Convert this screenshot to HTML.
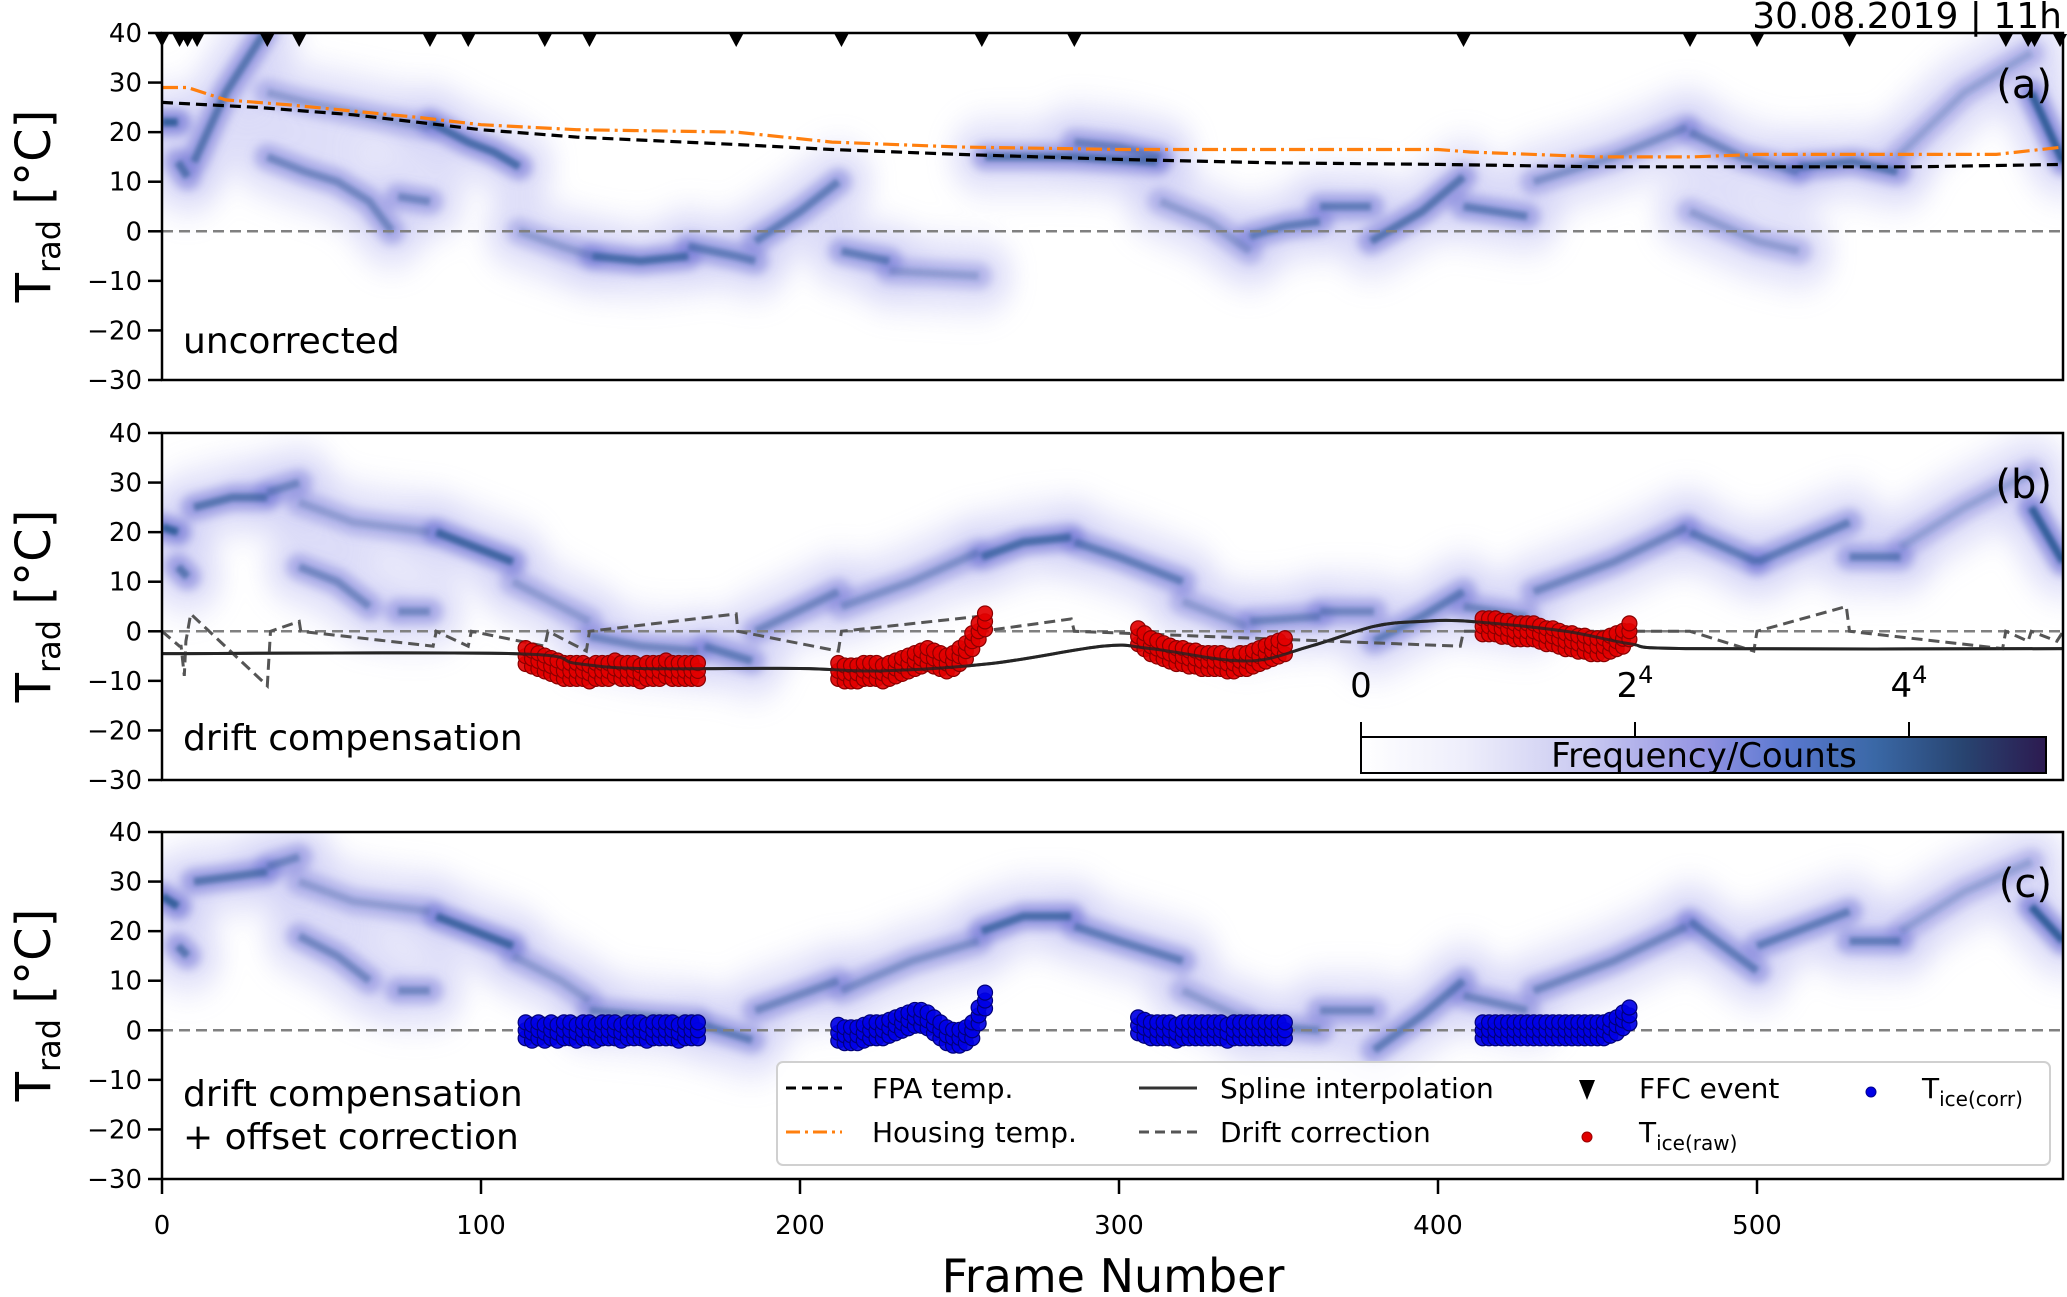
<!DOCTYPE html>
<html><head><meta charset="utf-8">
<style>
html,body{margin:0;padding:0;background:#fff;}
svg{display:block;font-family:"DejaVu Sans","Liberation Sans",sans-serif;}
</style></head>
<body>
<svg id="fig" width="2067" height="1297" viewBox="0 0 2067 1297" xmlns="http://www.w3.org/2000/svg">
<defs>
<filter id="blurH" filterUnits="userSpaceOnUse" x="0" y="0" width="2067" height="1297"><feGaussianBlur stdDeviation="12 16"/></filter>
<filter id="blurM" filterUnits="userSpaceOnUse" x="0" y="0" width="2067" height="1297"><feGaussianBlur stdDeviation="5"/></filter>
<filter id="blurC" filterUnits="userSpaceOnUse" x="0" y="0" width="2067" height="1297"><feGaussianBlur stdDeviation="2.2"/></filter>
<linearGradient id="cmap" x1="0" x2="1" y1="0" y2="0">
<stop offset="0" stop-color="#ffffff"/><stop offset="0.15" stop-color="#eeeefb"/>
<stop offset="0.33" stop-color="#c9c9f1"/><stop offset="0.5" stop-color="#9393e2"/>
<stop offset="0.62" stop-color="#5a78d0"/><stop offset="0.75" stop-color="#3a68a6"/>
<stop offset="0.88" stop-color="#284470"/><stop offset="1" stop-color="#2c1a50"/>
</linearGradient>
<clipPath id="clipA"><rect x="162" y="33" width="1901" height="347"/></clipPath>
<clipPath id="clipB"><rect x="162" y="433" width="1901" height="347"/></clipPath>
<clipPath id="clipC"><rect x="162" y="832" width="1901" height="347"/></clipPath>
</defs>
<g id="layers"></g>

<text x="2062" y="28" font-size="36" text-anchor="end">30.08.2019 | 11h</text>

<text x="2052" y="98" font-size="40" text-anchor="end">(a)</text>
<text x="2052" y="498" font-size="40" text-anchor="end">(b)</text>
<text x="2052" y="897" font-size="40" text-anchor="end">(c)</text>

<text x="183" y="353" font-size="36">uncorrected</text>
<text x="183" y="750" font-size="36">drift compensation</text>
<text x="183" y="1106" font-size="36">drift compensation</text>
<text x="183" y="1149" font-size="36">+ offset correction</text>

<g transform="translate(50,206) rotate(-90)"><text text-anchor="middle" font-size="48">T<tspan font-size="32" dy="10">rad</tspan><tspan dy="-10"> [°C]</tspan></text></g>
<g transform="translate(50,606) rotate(-90)"><text text-anchor="middle" font-size="48">T<tspan font-size="32" dy="10">rad</tspan><tspan dy="-10"> [°C]</tspan></text></g>
<g transform="translate(50,1005) rotate(-90)"><text text-anchor="middle" font-size="48">T<tspan font-size="32" dy="10">rad</tspan><tspan dy="-10"> [°C]</tspan></text></g>

<text x="1113" y="1292" font-size="46" text-anchor="middle">Frame Number</text>

<g>
<rect x="1361" y="737" width="685" height="36" fill="url(#cmap)" stroke="#000" stroke-width="2"/>
<line x1="1361" y1="722" x2="1361" y2="737" stroke="#000" stroke-width="2"/>
<line x1="1635" y1="722" x2="1635" y2="737" stroke="#000" stroke-width="2"/>
<line x1="1909" y1="722" x2="1909" y2="737" stroke="#000" stroke-width="2"/>
<text x="1361" y="697" font-size="34" text-anchor="middle">0</text>
<text x="1635" y="697" font-size="34" text-anchor="middle">2<tspan font-size="24" dy="-14">4</tspan></text>
<text x="1909" y="697" font-size="34" text-anchor="middle">4<tspan font-size="24" dy="-14">4</tspan></text>
<text x="1704" y="767" font-size="34" text-anchor="middle">Frequency/Counts</text>
</g>

<g>
<rect x="777" y="1062" width="1273" height="103" rx="6" fill="#fff" fill-opacity="0.85" stroke="#d0d0d0" stroke-width="2"/>
<line x1="786" y1="1088" x2="842" y2="1088" stroke="#000" stroke-width="3" stroke-dasharray="10,6"/>
<text x="872" y="1098" font-size="28">FPA temp.</text>
<line x1="786" y1="1132" x2="842" y2="1132" stroke="#ff7f0e" stroke-width="3" stroke-dasharray="14,5,3,5"/>
<text x="872" y="1142" font-size="28">Housing temp.</text>
<line x1="1139" y1="1088" x2="1197" y2="1088" stroke="#333" stroke-width="3"/>
<text x="1220" y="1098" font-size="28">Spline interpolation</text>
<line x1="1139" y1="1132" x2="1197" y2="1132" stroke="#555" stroke-width="3" stroke-dasharray="10,6"/>
<text x="1220" y="1142" font-size="28">Drift correction</text>
<path d="M1579,1080 L1595,1080 L1587,1100 Z" fill="#000"/>
<text x="1639" y="1098" font-size="28">FFC event</text>
<circle cx="1587" cy="1137" r="5" fill="#e00000" stroke="#900" stroke-width="1"/>
<text x="1639" y="1142" font-size="28">T<tspan font-size="20" dy="8">ice(raw)</tspan></text>
<circle cx="1871" cy="1092" r="5" fill="#0000e6" stroke="#000090" stroke-width="1"/>
<text x="1922" y="1098" font-size="28">T<tspan font-size="20" dy="8">ice(corr)</tspan></text>
</g>

<script>
// ---------- data ----------
const yTicks = [40, 30, 20, 10, 0, -10, -20, -30];
const yTickLabels = ["40", "30", "20", "10", "0", "\u221210", "\u221220", "\u221230"];
const xTicks = [0, 100, 200, 300, 400, 500];
const xTickLabels = ["0", "100", "200", "300", "400", "500"];

const ffcFrames = [0, 5.5, 8, 11, 33, 43, 84, 96, 120, 134, 180, 213, 257, 286, 408, 479, 500, 529, 578, 585, 587, 595];

const fpaFrames = [0, 30, 60, 80, 100, 130, 180, 210, 250, 300, 350, 400, 450, 500, 550, 596];
const fpaTemps  = [26, 25, 23.5, 22, 20.5, 19, 17.5, 16.5, 15.5, 14.5, 13.8, 13.5, 13, 13, 13, 13.5];
const housingFrames = [0, 8, 20, 40, 80, 100, 130, 180, 210, 250, 300, 350, 400, 410, 450, 480, 500, 550, 575, 596];
const housingTemps  = [29, 29, 26.5, 25.5, 23, 21.5, 20.5, 20, 18, 17, 16.5, 16.5, 16.5, 16, 15, 15, 15.5, 15.5, 15.5, 17];

const driftFrames = [0, 5.5, 6, 7, 7.5, 9, 33, 34, 43, 43.5, 85, 86, 96, 97, 120, 121, 133, 134, 180, 180.5, 212, 213, 256, 257, 285, 286, 407, 408, 479, 499, 500, 528, 529, 577, 578, 585, 586, 594, 596];
const driftTemps  = [0, -3, -3, -9, -2, 3.5, -11, 0, 2, 0, -3, 0, -3, 0, -3, 0, -4, 0, 3.5, 0, -4, 0, 3, 0, 2.5, 0, -3, 0, 0, -4, 0, 5, 0, -3.5, 0, -2, 0, -2, 0];

const splineFrames = [0, 110, 130, 150, 200, 225, 260, 295, 310, 340, 360, 380, 395, 410, 440, 460, 480, 596];
const splineTemps  = [-4.5, -4.5, -6.5, -7.5, -7.5, -8, -6.5, -3, -3.5, -6, -3, 1, 2, 2, 0, -2.5, -3.5, -3.5];

const iceFrames1 = [114,116,118,120,122,124,126,128,130,132,134,136,138,140,142,144,146,148,150,152,154,156,158,160,162,164,166,168];
const iceFrames2 = [212,214,216,218,220,222,224,226,228,230,232,234,236,238,240,242,244,246,248,250,252,254,256,258];
const iceFrames3 = [306,308,310,312,314,316,318,320,322,324,326,328,330,332,334,336,338,340,342,344,346,348,350,352];
const iceFrames4 = [414,416,418,420,422,424,426,428,430,432,434,436,438,440,442,444,446,448,450,452,454,456,458,460];
const iceRaw1 = [-5,-5.5,-6,-6.5,-7,-7.5,-8,-8,-8,-8,-8.5,-8,-8,-8,-7.5,-8,-8,-8,-8.5,-8,-8,-8,-7.5,-8,-8,-8,-8,-8];
const iceRaw2 = [-8,-8.5,-8.5,-8.5,-8,-8,-8,-8.5,-8,-7.5,-7,-6.5,-6,-5.5,-5,-5.5,-6,-6.5,-6,-5,-4,-2,0,2];
const iceRaw3 = [-1,-2,-3,-3.5,-4,-4.5,-5,-5,-5.5,-5.5,-6,-6,-6,-6,-6.5,-6.5,-6,-6,-5.5,-5,-4.5,-4,-3.5,-3];
const iceRaw4 = [1,1,1,0.5,0.5,0,0,0,0,-0.5,-1,-1,-1.5,-2,-2,-2.5,-2.5,-3,-3,-3,-2.5,-2,-1.5,0];
const iceCorr1 = [0,-0.5,0,-0.5,0,-0.5,0,0,-0.5,0,0,-0.5,0,0,0,-0.5,0,0,0,-0.5,0,0,0,0,-0.5,0,0,0];
const iceCorr2 = [-0.5,-1,-1,-1,-0.5,0,0,0,0.5,1,1.5,2,2.5,2.5,2,1,0,-1,-1.5,-1.5,-1,0,3,6];
const iceCorr3 = [1,0.5,0,0,0,0,-0.5,0,0,0,0,0,0,0,-0.5,0,0,0,0,0,0,0,0,0];
const iceCorr4 = [0,0,0,0,0,0,0,0,0,0,0,0,0,0,0,0,0,0,0,0,0.5,1,2,3];

// density ridges: [frames, temps, intensity]
const ridgesA = [
 [[0,5],[22,22],1],[[5,8],[14,11],.7],[[10,20,32],[14,28,40],.7],[[33,45,60,75,84],[28,26,24,22,21],.3],
 [[33,45,55,65,72],[15,12,10,6,0],.5],[[74,84],[7,6],.5],[[84,96,104,112],[22,18,16,13],.8],[[112,125,135],[0,-3,-5],.3],
 [[135,150,165],[-5,-6,-5],.8],[[165,180,186],[-3,-5,-6],.6],[[186,200,212],[-2,4,10],.6],[[213,228],[-4,-6],.6],
 [[228,256],[-8,-9],.3],[[258,285,312],[15,15,14],.7],[[286,300,313],[18,17,15],.5],[[313,328,341],[6,2,-4],.3],
 [[341,352,363],[-1,1,2],.6],[[363,379],[5,5],.6],[[379,395,408],[-2,4,11],.7],[[408,428],[5,3],.6],
 [[430,455,478],[10,15,21],.4],[[479,495,513],[20,15,12],.5],[[479,500,513],[4,-2,-4],.3],[[513,530,544],[13,14,12],.7],
 [[544,565,586],[15,28,36],.25],[[586,596],[28,14],1]
];
const ridgesB = [
 [[0,5],[21,20],1],[[5,8],[13,11],.7],[[10,22,33],[25,27,27],.7],[[33,43],[28,30],.5],[[43,55,65],[13,10,5],.5],
 [[43,60,84],[26,22,20],.3],[[74,84],[4,4],.5],[[86,98,110],[20,17,14],.9],[[110,125,134],[10,5,2],.3],
 [[134,150,168],[-1,-3,-4],.5],[[170,185],[-3,-6],.6],[[186,212],[0,8],.5],[[213,235,256],[5,10,16],.4],
 [[257,270,285],[15,18,19],.8],[[286,300,320],[18,15,10],.6],[[320,340],[6,1],.3],[[341,363],[2,3],.5],
 [[363,380],[4,4],.5],[[380,395,408],[-2,3,8],.6],[[408,428],[5,3],.5],[[430,455,478],[8,14,21],.5],
 [[479,500],[20,14],.6],[[500,529],[14,22],.6],[[529,545],[15,15],.6],[[545,565,586],[17,25,32],.25],[[586,596],[25,14],1]
];
const ridgesC = [
 [[0,5],[27,25],1],[[5,8],[17,15],.7],[[10,22,33],[30,31,32],.7],[[33,43],[33,35],.5],[[43,55,65],[19,15,10],.5],
 [[43,60,84],[30,26,24],.3],[[74,84],[8,8],.5],[[86,98,110],[23,20,17],.9],[[110,125,134],[15,10,6],.3],
 [[134,150,168],[4,3,2],.5],[[170,185],[1,-2],.6],[[186,212],[4,10],.5],[[213,235,256],[8,14,18],.4],
 [[257,270,285],[20,23,23],.8],[[286,300,320],[21,18,14],.6],[[320,340],[8,2],.3],[[341,363],[1,0],.5],
 [[363,380],[4,4],.5],[[380,395,408],[-4,3,10],.6],[[408,428],[7,4],.5],[[430,455,478],[8,14,21],.5],
 [[479,500],[22,12],.6],[[500,529],[17,24],.6],[[529,545],[18,18],.6],[[545,565,586],[20,28,34],.25],[[586,596],[25,18],1]
];

// ---------- layout ----------
const NS = "http://www.w3.org/2000/svg";
const X0 = 162, XS = 3.19, PW = 1901, PH = 347;
const panelTops = [33, 433, 832];
function xs(f){ return X0 + f * XS; }
function ys(p, t){ return panelTops[p] + (40 - t) * PH / 70; }
const root = document.getElementById('layers');
function mk(tag, attrs, parent){
  const e = document.createElementNS(NS, tag);
  for (const k in attrs) e.setAttribute(k, attrs[k]);
  (parent || root).appendChild(e);
  return e;
}
function pathFrom(p, F, T){
  let d = "";
  for (let i = 0; i < F.length; i++) d += (i ? "L" : "M") + xs(F[i]).toFixed(1) + "," + ys(p, T[i]).toFixed(1);
  return d;
}
function smoothPath(p, F, T){
  const P = F.map((f, i) => [xs(f), ys(p, T[i])]);
  let d = "M" + P[0][0] + "," + P[0][1];
  for (let i = 0; i < P.length - 1; i++){
    const p0 = P[Math.max(0, i-1)], p1 = P[i], p2 = P[i+1], p3 = P[Math.min(P.length-1, i+2)];
    const c1 = [p1[0] + (p2[0]-p0[0])/6, p1[1] + (p2[1]-p0[1])/6];
    const c2 = [p2[0] - (p3[0]-p1[0])/6, p2[1] - (p3[1]-p1[1])/6];
    d += "C" + c1.join(",") + " " + c2.join(",") + " " + p2.join(",");
  }
  return d;
}

const clips = ["clipA", "clipB", "clipC"];
const ridgeSets = [ridgesA, ridgesB, ridgesC];
const panelNames = ["panel-a", "panel-b", "panel-c"];

for (let p = 0; p < 3; p++){
  const g = mk('g', {'clip-path': 'url(#' + clips[p] + ')'});
  
  
  const hm = mk('g', {}, g);
  
  
  const halo = mk('g', {filter: 'url(#blurH)', opacity: 0.55}, hm);
  
  
  const mid = mk('g', {filter: 'url(#blurM)'}, hm);
  
  
  const core = mk('g', {filter: 'url(#blurC)'}, hm);
  
  
  ridgeSets[p].forEach(r => {
    const d = pathFrom(p, r[0], r[1]);
    const h = mk('path', {d: d, fill: 'none', stroke: '#b0b0ef', 'stroke-width': 70, 'stroke-opacity': 0.75, 'stroke-linecap': 'round'}, halo);
    
    
    const m = mk('path', {d: d, fill: 'none', stroke: '#6f73d4', 'stroke-width': 26, 'stroke-linecap': 'round', 'stroke-opacity': (0.25 + 0.45*r[2]).toFixed(2)}, mid);
    
    
    const c = mk('path', {d: d, fill: 'none', stroke: '#2a5a94', 'stroke-width': 8, 'stroke-opacity': (r[2]*0.9).toFixed(2)}, core);
    
    
  });
  const z = mk('line', {x1: X0, x2: X0 + PW, y1: ys(p, 0), y2: ys(p, 0), stroke: '#808080', 'stroke-width': 2.5, 'stroke-dasharray': '11,6'}, g);
  
  
}

// panel a lines
{
  const g = root.children[0];
  const fpa = mk('path', {d: pathFrom(0, fpaFrames, fpaTemps), fill: 'none', stroke: '#000', 'stroke-width': 3.2, 'stroke-dasharray': '11,6'}, g);
  
  
  const hs = mk('path', {d: pathFrom(0, housingFrames, housingTemps), fill: 'none', stroke: '#ff7f0e', 'stroke-width': 3.2, 'stroke-dasharray': '16,5,3,5'}, g);
  
  
  ffcFrames.forEach(f => {
    const x = xs(f);
    const t = mk('path', {d: 'M' + (x-7) + ',34 L' + (x+7) + ',34 L' + x + ',47 Z', fill: '#000'}, root);
    
    
  });
}
// panel b lines
{
  const g = root.children[1];
  const sp = mk('path', {d: smoothPath(1, splineFrames, splineTemps), fill: 'none', stroke: '#333', 'stroke-width': 3}, g);
  
  
  const dr = mk('path', {d: pathFrom(1, driftFrames, driftTemps), fill: 'none', stroke: '#555', 'stroke-width': 3, 'stroke-dasharray': '11,6'}, g);
  
  
}
function drawIce(p, F, T, fill, edge, name){
  const g = mk('g', {}, root.children[p]);
  
  
  F.forEach((f, i) => {
    [-1.6, 0, 1.6].forEach(o => {
      const c = mk('circle', {cx: xs(f), cy: ys(p, T[i] + o), r: 7.5, fill: fill, stroke: edge, 'stroke-width': 1.2, 'fill-opacity': 0.92}, g);
      
      
    });
  });
}
[[iceFrames1, iceRaw1], [iceFrames2, iceRaw2], [iceFrames3, iceRaw3], [iceFrames4, iceRaw4]].forEach(a => drawIce(1, a[0], a[1], '#e20000', '#8a0000', 'ice-raw-cluster'));
[[iceFrames1, iceCorr1], [iceFrames2, iceCorr2], [iceFrames3, iceCorr3], [iceFrames4, iceCorr4]].forEach(a => drawIce(2, a[0], a[1], '#0000e6', '#00007a', 'ice-corr-cluster'));
{
  const sp2 = mk('path', {d: smoothPath(1, splineFrames, splineTemps), fill: 'none', stroke: '#222', 'stroke-width': 3, 'stroke-opacity': 0.8, 'clip-path': 'url(#clipB)'}, root);
  
  
}

// axes
for (let p = 0; p < 3; p++){
  const fr = mk('rect', {x: X0, y: panelTops[p], width: PW, height: PH, fill: 'none', stroke: '#000', 'stroke-width': 2.5});
  
  
  yTicks.forEach((t, i) => {
    const y = ys(p, t);
    const tk = mk('line', {x1: X0 - 14, x2: X0, y1: y, y2: y, stroke: '#000', 'stroke-width': 2.5});
    
    
    const lb = mk('text', {x: X0 - 20, y: y + 9, 'font-size': 26, 'text-anchor': 'end'});
    lb.textContent = yTickLabels[i];
    
    
  });
}
xTicks.forEach((f, i) => {
  const x = xs(f);
  const tk = mk('line', {x1: x, x2: x, y1: 1179, y2: 1194, stroke: '#000', 'stroke-width': 2.5});
  
  
  const lb = mk('text', {x: x, y: 1234, 'font-size': 26, 'text-anchor': 'middle'});
  lb.textContent = xTickLabels[i];
  
  
});
</script>
</svg>
</body></html>
